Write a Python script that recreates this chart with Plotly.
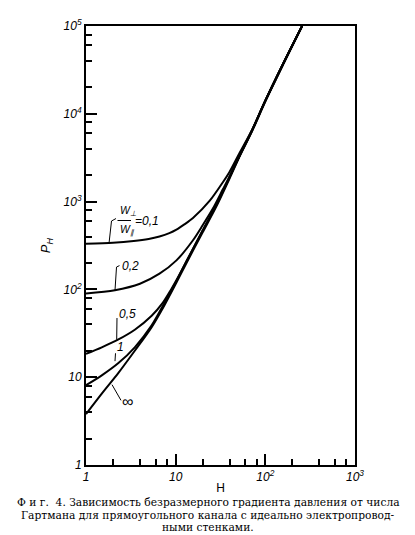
import plotly.graph_objects as go

# Числа Гартмана H и безразмерный градиент давления P_H для каждой кривой (W_perp / W_par)
H_01 = [1, 2, 3.4, 5, 6.6, 8.5, 10.2, 12.5, 15.6, 24, 33.6, 40, 51.4, 71, 100, 158, 257]
P_01 = [331, 339, 355, 375, 400, 437, 479, 550, 650, 1023, 1660, 2190, 3550, 6550, 14100, 37200, 100000]

H_02 = [1, 2.1, 4, 6.6, 10.2, 15.6, 20, 26, 33.6, 40, 51.4, 71, 100, 158, 257]
P_02 = [90, 98, 116, 151, 214, 363, 537, 832, 1380, 1950, 3310, 6460, 14100, 37200, 100000]

H_05 = [1, 1.5, 2.3, 3.5, 5.4, 7.1, 8.9, 10, 13.2, 20, 28.3, 40, 51.4, 71, 100, 158, 257]
P_05 = [18.4, 21.9, 26.9, 34.7, 50.1, 69.2, 100, 123, 209, 468, 912, 1905, 3310, 6460, 14100, 37200, 100000]

H_1 = [1, 1.5, 2.3, 3.5, 5.4, 7.5, 10, 13.2, 20, 28.3, 40, 51.4, 71, 100, 158, 257]
P_1 = [8.1, 10.5, 14.5, 21.9, 38.9, 70, 120, 209, 468, 912, 1905, 3310, 6460, 14100, 37200, 100000]

H_inf = [1, 1.5, 2.3, 3.5, 5.4, 7.5, 10, 13.2, 20, 28.3, 40, 51.4, 71, 100, 158, 257]
P_inf = [3.8, 6.5, 11.2, 20, 37.2, 66, 115, 200, 447, 871, 1840, 3236, 6310, 13800, 36300, 100000]

curves = [(H_01, P_01), (H_02, P_02), (H_05, P_05), (H_1, P_1), (H_inf, P_inf)]

x_ticks = [1, 10, 100, 1000]
x_ticktext = ["1", "10", "10<sup>2</sup>", "10<sup>3</sup>"]
y_ticks = [1, 10, 100, 1000, 10000, 100000]
y_ticktext = ["1", "10", "10<sup>2</sup>", "10<sup>3</sup>", "10<sup>4</sup>", "10<sup>5</sup>"]
minor_x = [m * 10 ** d for d in range(3) for m in (2, 4, 6, 8)]
minor_y = [m * 10 ** d for d in range(5) for m in (2, 4, 6, 8)]

caption = [
    "Ф и г.  4. Зависимость безразмерного градиента давления от числа",
    "Гартмана для прямоугольного канала с идеально электропровод-",
    "ными стенками.",
]

# страница сдвинута на 8 px полем body, поэтому фигура чуть меньше окна
OFF = 8
W, HGT = 407, 527
PL, PR, PT, PB = 86, 355, 17, 465          # область построения в координатах страницы
L, R, T, B = PL - OFF, W + OFF - PR, PT - OFF, HGT + OFF - PB


def px(x):
    return (x - PL) / (PR - PL)


def py(y):
    return (PB - y) / (PB - PT)


fig = go.Figure()
for h, p in curves:
    fig.add_trace(go.Scatter(
        x=h, y=p, mode="lines",
        line=dict(color="black", width=2, shape="spline", smoothing=0.8),
        hoverinfo="skip",
    ))

lab_font = dict(family="Liberation Sans", size=12, color="black", style="italic")

# выноски к подписям кривых
leaders = [
    [(109, 239), (111.5, 216), (116, 213.5)],
    [(115, 287), (116.5, 263), (119.5, 261.5)],
    [(116.7, 337), (117, 315)],
    [(115, 359), (115.5, 351)],
    [(112, 383), (121, 399)],
]
shapes = []
for pts in leaders:
    path = "M " + " L ".join(f"{px(a):.4f},{py(b):.4f}" for a, b in pts)
    shapes.append(dict(type="path", xref="paper", yref="paper", path=path,
                       line=dict(color="black", width=1)))
# черта дроби W_perp / W_par
shapes.append(dict(type="line", xref="paper", yref="paper",
                   x0=px(117.5), x1=px(131), y0=py(215.5), y1=py(215.5),
                   line=dict(color="black", width=1)))

annotations = [
    dict(text="W<sub>⊥</sub>", x=px(117.5), y=py(215), xanchor="left", yanchor="bottom"),
    dict(text="W<sub>∥</sub>", x=px(117.5), y=py(216.5), xanchor="left", yanchor="top"),
    dict(text="=0,1", x=px(133), y=py(216), xanchor="left", yanchor="middle"),
    dict(text="0,2", x=px(120), y=py(262), xanchor="left", yanchor="middle"),
    dict(text="0,5", x=px(117), y=py(311), xanchor="left", yanchor="middle"),
    dict(text="1", x=px(114.5), y=py(345), xanchor="left", yanchor="middle"),
    dict(text="∞", x=px(120), y=py(400), xanchor="left", yanchor="middle"),
]
for a in annotations:
    a.update(xref="paper", yref="paper", showarrow=False, font=lab_font)
annotations[0]["font"] = dict(lab_font, size=10.5)
annotations[1]["font"] = dict(lab_font, size=10.5)
annotations[6]["font"] = dict(lab_font, size=16, style="normal")

cap_font = dict(family="DejaVu Serif", size=10.7, color="black")
for i, line in enumerate(caption):
    annotations.append(dict(
        text=line, xref="paper", yref="paper", x=px(208), y=py(496 + 12.5 * i),
        xanchor="center", yanchor="top", showarrow=False, borderpad=0, font=cap_font,
    ))

axis_common = dict(
    type="log", showgrid=False, zeroline=False,
    showline=True, linecolor="black", linewidth=2, mirror=True,
    ticks="inside", ticklen=11, tickwidth=1.5, tickcolor="black",
    tickfont=dict(family="Liberation Sans", size=12, color="black", style="italic"),
)

fig.update_layout(
    width=W, height=HGT,
    margin=dict(l=L, r=R, t=T, b=B),
    paper_bgcolor="white", plot_bgcolor="white",
    showlegend=False,
    xaxis=dict(
        axis_common, range=[0, 3],
        tickmode="array", tickvals=x_ticks, ticktext=x_ticktext,
        minor=dict(tickmode="array", tickvals=minor_x, ticks="inside",
                   ticklen=6, tickwidth=1.5, tickcolor="black"),
        title=dict(text="H", standoff=0,
                   font=dict(family="Liberation Sans", size=12, color="black")),
    ),
    yaxis=dict(
        axis_common, range=[0, 5],
        tickmode="array", tickvals=y_ticks, ticktext=y_ticktext,
        minor=dict(tickmode="array", tickvals=minor_y, ticks="inside",
                   ticklen=6, tickwidth=1.5, tickcolor="black"),
        title=dict(text="P<sub>H</sub>", standoff=10,
                   font=dict(family="Liberation Sans", size=13, color="black", style="italic")),
    ),
    shapes=shapes,
    annotations=annotations,
)

fig.write_html("out.html")
